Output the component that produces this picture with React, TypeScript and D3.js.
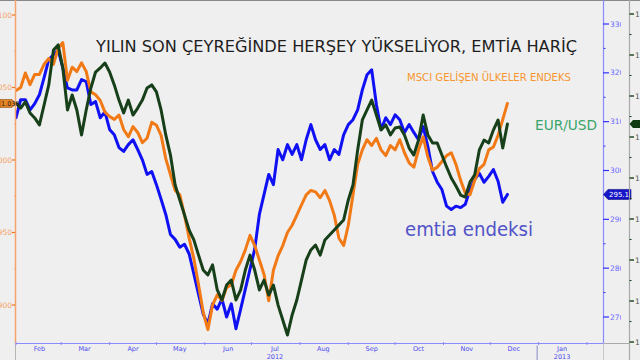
import React from 'react';
import * as d3 from 'd3';

// ---- data ----
const startDate = new Date(2012, 1, 1);
const stepDays = 3;
const monthLabels = ['Feb', 'Mar', 'Apr', 'May', 'Jun', 'Jul', 'Aug', 'Sep', 'Oct', 'Nov', 'Dec', 'Jan'];
const yearLabels = [
  { label: '2012', date: new Date(2012, 6, 16) },
  { label: '2013', date: new Date(2013, 0, 16) },
];

const msciValues = [
  1048, 1050, 1060, 1052, 1059, 1059, 1066, 1070, 1066, 1077,
  1081, 1055, 1064, 1061, 1067, 1061, 1047, 1045, 1041, 1033,
  1030, 1028, 1031, 1021, 1016, 1023, 1019, 1012, 1015, 1026,
  1024, 1017, 1001, 990, 979, 976, 962, 946, 932, 914,
  895, 883, 900, 907, 903, 912, 914, 924, 930, 938,
  948, 941, 931, 921, 903, 924, 934, 941, 950, 955,
  962, 969, 976, 979, 978, 974, 979, 972, 962, 946,
  941, 955, 976, 997, 1007, 1014, 1010, 1015, 1007, 1003,
  1010, 1007, 1014, 1005, 998, 995, 1007, 1016, 1002, 993,
  995, 999, 1003, 1005, 997, 986, 977, 976, 986, 994,
  997, 1007, 1009, 1017, 1028, 1039,
];

const crbValues = [
  310.8, 314.5, 314.5, 312.4, 313.7, 315.5, 319.0, 322.7, 323.7, 324.7,
  321.0, 316.9, 316.5, 316.5, 318.6, 318.2, 313.5, 314.1, 310.8, 312.0,
  308.4, 307.3, 304.7, 303.9, 305.3, 306.3, 304.3, 302.2, 299.2, 299.8,
  297.1, 294.1, 291.0, 286.9, 285.9, 284.3, 284.9, 282.9, 278.8, 274.7,
  270.6, 268.6, 272.7, 271.6, 273.7, 270.0, 272.7, 267.6, 271.6, 275.7,
  279.8, 283.9, 291.0, 295.1, 299.2, 297.1, 304.3, 302.2, 305.3, 303.3,
  305.3, 302.2, 306.3, 309.4, 306.3, 304.3, 305.3, 302.2, 304.3, 303.3,
  307.3, 309.4, 310.4, 312.4, 316.5, 319.6, 320.6, 313.5, 308.4, 310.8,
  309.4, 311.4, 310.4, 307.8, 309.4, 307.8, 306.3, 309.0, 304.9, 299.8,
  297.6, 296.1, 292.7, 292.0, 292.7, 292.4, 293.1, 296.1, 298.2, 299.4,
  297.6, 298.8, 300.2, 297.8, 293.5, 295.1,
];

const eurusdValues = [
  1.3166, 1.3141, 1.3171, 1.3117, 1.3093, 1.3059, 1.3156, 1.3254, 1.3424, 1.3449,
  1.3337, 1.3132, 1.3205, 1.3132, 1.3010, 1.3132, 1.3239, 1.3317, 1.3337, 1.3361,
  1.3317, 1.3254, 1.3180, 1.3117, 1.3180, 1.3107, 1.3141, 1.3180, 1.3239, 1.3254,
  1.3220, 1.3132, 1.3010, 1.2912, 1.2766, 1.2693, 1.2620, 1.2546, 1.2498, 1.2424,
  1.2351, 1.2327, 1.2376, 1.2254, 1.2205, 1.2278, 1.2302, 1.2205, 1.2254, 1.2351,
  1.2424, 1.2351, 1.2254, 1.2302, 1.2229, 1.2278, 1.2180, 1.2107, 1.2034, 1.2132,
  1.2205, 1.2302, 1.2400, 1.2449, 1.2473, 1.2424, 1.2498, 1.2522, 1.2546, 1.2571,
  1.2595, 1.2693, 1.2766, 1.2937, 1.3083, 1.3132, 1.3180, 1.3107, 1.3034, 1.3059,
  1.3010, 1.3044, 1.3049, 1.3010, 1.2946, 1.2912, 1.2985, 1.3107, 1.3010, 1.2971,
  1.2971, 1.2912, 1.2854, 1.2800, 1.2761, 1.2717, 1.2707, 1.2780, 1.2815, 1.2937,
  1.2985, 1.2971, 1.3034, 1.3083, 1.2946, 1.3063,
];

const leftTicks = [900, 950, 1000, 1050, 1100];
const leftMinor = [925, 975, 1025, 1075];
const blueTicks = [270, 280, 290, 300, 310, 320, 330];
const blueMinor = [275, 285, 295, 305, 315, 325];
const greenTicks = [1.2, 1.22, 1.24, 1.26, 1.28, 1.3, 1.32, 1.34, 1.36];
const greenMinor = [1.21, 1.23, 1.25, 1.27, 1.29, 1.31, 1.33, 1.35];

const title = 'YILIN SON ÇEYREĞİNDE HERŞEY YÜKSELİYOR, EMTİA HARİÇ';
const msciLabel = 'MSCI GELİŞEN ÜLKELER ENDEKS';
const eurLabel = 'EUR/USD';
const crbLabel = 'emtia endeksi';

// ---- colors ----
const BG = '#efefef';
const ORANGE = '#f27a16';
const BLUE = '#1010f4';
const GREEN = '#173f19';
const AXIS_BLUE = '#8a8aff';
const AXIS_ORANGE = '#f5a36e';

export default function App() {
  const W = 640;
  const H = 360;
  const x = d3.scaleTime().domain([new Date(2012, 1, 1), new Date(2013, 1, 1)]).range([16, 587]);
  const yLeft = d3.scaleLinear().domain([900, 1100]).range([305, 15]);
  const yBlue = d3.scaleLinear().domain([270, 330]).range([317, 24]);
  const yGreen = d3.scaleLinear().domain([1.2, 1.36]).range([342, 14]);

  const dates = msciValues.map((_, i) => d3.timeDay.offset(startDate, i * stepDays));

  const lineFor = (vals: number[], y: d3.ScaleLinear<number, number>) =>
    d3
      .line<number>()
      .x((_, i) => x(dates[i]))
      .y((v) => y(v))(vals) || '';

  const monthStarts = d3.timeMonth.range(new Date(2012, 1, 1), new Date(2013, 1, 15));
  const monthMids = monthStarts.map((d) => d3.timeDay.offset(d, 15));

  const lastMsci = msciValues[msciValues.length - 1];
  const lastCrb = crbValues[crbValues.length - 1];
  const lastEur = eurusdValues[eurusdValues.length - 1];
  const ybL = yLeft(lastMsci);
  const ybB = yBlue(lastCrb);
  const ybG = yGreen(lastEur);
  const trFmt = (v: number) => d3.format(',')(Math.round(v)).replace(',', '.');

  const axisY = 343.5;

  return (
    <svg
      width={W}
      height={H}
      style={{ position: 'absolute', left: 0, top: 0, background: BG }}
      fontFamily="DejaVu Sans, Verdana, sans-serif"
    >
      <defs>
        <clipPath id="plotClip">
          <rect x={16} y={0} width={587} height={343} />
        </clipPath>
        <clipPath id="blueLab">
          <rect x={604} y={0} width={17} height={343} />
        </clipPath>
      </defs>
      <rect x={0} y={0} width={W} height={H} fill={BG} />
      <line x1={0} x2={W} y1={0.5} y2={0.5} stroke="#888" />

      {/* lines */}
      <g clipPath="url(#plotClip)" fill="none" strokeWidth={3} strokeLinejoin="round" strokeLinecap="round">
        <path d={lineFor(crbValues, yBlue)} stroke={BLUE} />
        <path d={lineFor(msciValues, yLeft)} stroke={ORANGE} />
        <path d={lineFor(eurusdValues, yGreen)} stroke={GREEN} />
      </g>

      {/* left axis */}
      <line x1={15.5} x2={15.5} y1={0} y2={axisY} stroke={AXIS_ORANGE} strokeWidth={1.5} />
      <line x1={15.5} x2={15.5} y1={axisY} y2={H} stroke="#b5b5b5" />
      {leftTicks.map((t) => (
        <g key={t}>
          <line x1={12} x2={15} y1={yLeft(t)} y2={yLeft(t)} stroke={ORANGE} strokeWidth={1.2} />
          <text x={12} y={yLeft(t) + 2.5} fontSize={7.5} fill="#f5a062" textAnchor="end">
            {t}
          </text>
        </g>
      ))}
      {leftMinor.map((t) => (
        <line key={t} x1={14} x2={15.5} y1={yLeft(t)} y2={yLeft(t)} stroke={AXIS_ORANGE} />
      ))}
      <polygon
        points={`0,${ybL - 4} 12,${ybL - 4} 16,${ybL} 12,${ybL + 4} 0,${ybL + 4}`}
        fill="#e98522"
        stroke="#8a4a10"
        strokeWidth={0.6}
      />
      <text x={1} y={ybL + 2.5} fontSize={6.5} fill="#222">
        {trFmt(lastMsci)}
      </text>

      {/* bottom axis */}
      <line x1={16} x2={603.5} y1={axisY} y2={axisY} stroke={AXIS_BLUE} strokeWidth={1.2} />
      <line x1={603.5} x2={629.5} y1={axisY} y2={axisY} stroke="#aaa" />
      {monthStarts.map((d, i) => (
        <line key={i} x1={x(d)} x2={x(d)} y1={axisY - 1.5} y2={axisY + 1.5} stroke={AXIS_BLUE} />
      ))}
      {monthMids.map((d, i) => (
        <text key={i} x={x(d)} y={351} fontSize={6.5} fill="#4b4bf0" textAnchor="middle">
          {monthLabels[i]}
        </text>
      ))}
      {yearLabels.map((yl) => (
        <text key={yl.label} x={x(yl.date)} y={358.5} fontSize={6.5} fill="#4b4bf0" textAnchor="middle">
          {yl.label}
        </text>
      ))}
      <line x1={x(new Date(2013, 0, 1)) - 1.5} x2={x(new Date(2013, 0, 1)) - 1.5} y1={axisY + 2} y2={H} stroke="#8888cc" />

      {/* right blue axis */}
      <line x1={603.5} x2={603.5} y1={0} y2={axisY} stroke={AXIS_BLUE} strokeWidth={1.2} />
      <line x1={603.5} x2={603.5} y1={axisY} y2={H} stroke="#c8c8c8" />
      {blueTicks.map((t) => (
        <line key={t} x1={603} x2={609} y1={yBlue(t)} y2={yBlue(t)} stroke="#3030ff" strokeWidth={1.2} />
      ))}
      {blueMinor.map((t) => (
        <line key={t} x1={603.5} x2={605.5} y1={yBlue(t)} y2={yBlue(t)} stroke="#3030ff" />
      ))}
      <g clipPath="url(#blueLab)">
        {blueTicks.map((t) => (
          <text key={t} x={610} y={yBlue(t) + 2.5} fontSize={7.5} fill="#6a6aff">
            {t.toFixed(1)}
          </text>
        ))}
      </g>
      <polygon
        points={`603.5,${ybB} 608,${ybB - 5} 631,${ybB - 5} 631,${ybB + 5} 608,${ybB + 5}`}
        fill="#1616c8"
        stroke="#0a0a80"
        strokeWidth={0.6}
      />
      <text x={609} y={ybB + 2.5} fontSize={7} fill="#fff">
        {lastCrb.toFixed(1)}
      </text>

      {/* far right EUR/USD axis */}
      <line x1={629.5} x2={629.5} y1={0} y2={H} stroke="#a8a8a8" strokeWidth={1.2} />
      {greenTicks.map((t) => (
        <g key={t}>
          <line x1={629.5} x2={634} y1={yGreen(t)} y2={yGreen(t)} stroke={GREEN} strokeWidth={1.4} />
          <text x={635} y={yGreen(t) + 2.5} fontSize={7.5} fill="#555">
            {t.toFixed(2)}
          </text>
        </g>
      ))}
      {greenMinor.map((t) => (
        <line key={t} x1={629.5} x2={631.5} y1={yGreen(t)} y2={yGreen(t)} stroke={GREEN} />
      ))}
      <polygon
        points={`629.5,${ybG} 633,${ybG - 4} 640,${ybG - 4} 640,${ybG + 4} 633,${ybG + 4}`}
        fill="#0f3a12"
      />

      {/* texts */}
      <text x={96} y={52} fontSize={16.5} fill="#1e1e1e" textLength={481} lengthAdjust="spacingAndGlyphs">
        {title}
      </text>
      <text x={407} y={81} fontSize={10.5} fill="#f7962e" textLength={164} lengthAdjust="spacingAndGlyphs">
        {msciLabel}
      </text>
      <text x={535} y={130} fontSize={14} fill="#3aa56a" textLength={62} lengthAdjust="spacingAndGlyphs">
        {eurLabel}
      </text>
      <text x={405} y={236} fontSize={19} fill="#5353c8" textLength={128} lengthAdjust="spacingAndGlyphs">
        {crbLabel}
      </text>
    </svg>
  );
}
